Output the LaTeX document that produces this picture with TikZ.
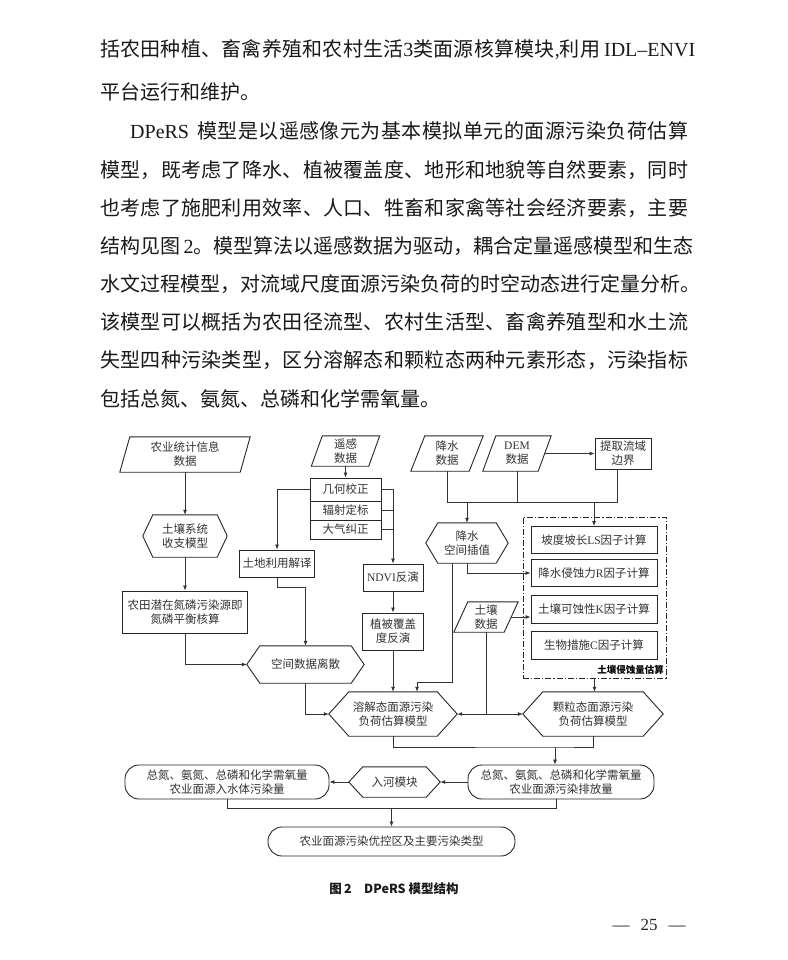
\documentclass[tikz,border=0pt]{standalone}
\usepackage{fontspec}
\setmainfont{Noto Sans CJK SC}
\newfontfamily\lat{Liberation Serif}
\usetikzlibrary{arrows.meta}
\newcount\mycc
\mycc="4E00
\loop \XeTeXcharclass\mycc=1 \advance\mycc by 1 \ifnum\mycc<"A000 \repeat
\XeTeXcharclass"3001=3
\XeTeXcharclass"3002=3
\XeTeXcharclass"FF0C=3
\XeTeXcharclass"FF1B=3
\XeTeXcharclass"FF1A=3
\newcommand{\cjkglue}{\hskip 0pt plus 1fil\relax}
\XeTeXinterchartoks 1 1 = {\cjkglue}
\XeTeXinterchartoks 1 3 = {\cjkglue}
\XeTeXinterchartoks 3 1 = {\cjkglue}
\XeTeXinterchartoks 3 3 = {\cjkglue}
\XeTeXinterchartoks 0 1 = {\cjkglue}
\XeTeXinterchartoks 1 0 = {\cjkglue}
\XeTeXinterchartoks 0 3 = {\cjkglue}
\XeTeXinterchartoks 3 0 = {\cjkglue}
\newcommand{\jl}[2]{\makebox[#1][s]{\XeTeXinterchartokenstate=1 #2}}
\newcommand{\bodyf}{\fontsize{20pt}{24pt}\selectfont}
\newcommand{\dfont}{\fontsize{11.5pt}{14pt}\selectfont}
\newcommand{\parashape}[2]{\draw[shp] ([xshift=#2pt]#1.north west) -- ([xshift=#2pt]#1.north east) -- ([xshift=-#2pt]#1.south east) -- ([xshift=-#2pt]#1.south west) -- cycle;}
\newcommand{\hexshape}[2]{\draw[shp] (#1.west) -- ([xshift=#2pt]#1.north west) -- ([xshift=-#2pt]#1.north east) -- (#1.east) -- ([xshift=-#2pt]#1.south east) -- ([xshift=#2pt]#1.south west) -- cycle;}
\tikzset{
  box/.style={draw=black!85, line width=0.9pt, inner sep=0pt, align=center, font=\dfont, text=black!80},
  txt/.style={inner sep=0pt, align=center, font=\dfont, text=black!80},
  pill/.style={box, rounded corners=14pt},
  shp/.style={draw=black!85, line width=0.9pt},
  ln/.style={draw=black!80, line width=0.8pt},
  arr/.style={-{Latex[length=5pt,width=4pt]}},
  body/.style={anchor=west, inner sep=0pt, font=\bodyf, text=black!90},
}
\begin{document}
\begin{tikzpicture}[x=1pt, y=-1pt]
\useasboundingbox[fill=white] (0,0) rectangle (787,960);

% ---- body text ----
\node[body] (l1) at (100,50) {\jl{595pt}{括农田种植、畜禽养殖和农村生活{\lat 3}类面源核算模块{\lat ,}利用\hspace{4pt}{\lat IDL–ENVI}}};
\node[body] (l2) at (100,92) {平台运行和维护。};
\node[body] (l3) at (130,131) {\jl{558pt}{{\lat DPeRS}\hspace{8pt}模型是以遥感像元为基本模拟单元的面源污染负荷估算}};
\node[body] (l4) at (100,170) {\jl{588pt}{模型，既考虑了降水、植被覆盖度、地形和地貌等自然要素，同时}};
\node[body] (l5) at (100,208) {\jl{588pt}{也考虑了施肥利用效率、人口、牲畜和家禽等社会经济要素，主要}};
\node[body] (l6) at (100,246) {\jl{588pt}{结构见图{\lat\,2}。模型算法以遥感数据为驱动，耦合定量遥感模型和生态}};
\node[body] (l7) at (100,284) {\jl{588pt}{水文过程模型，对流域尺度面源污染负荷的时空动态进行定量分析。}};
\node[body] (l8) at (100,322) {\jl{588pt}{该模型可以概括为农田径流型、农村生活型、畜禽养殖型和水土流}};
\node[body] (l9) at (100,360) {\jl{588pt}{失型四种污染类型，区分溶解态和颗粒态两种元素形态，污染指标}};
\node[body] (l10) at (100,399) {包括总氮、氨氮、总磷和化学需氧量。};

% ---- left column ----
\node[txt, minimum width=120, minimum height=35] (nyxx) at (185,454.5) {农业统计信息\\数据};
\parashape{nyxx}{5}
\node[txt, minimum width=84, minimum height=42] (trxt) at (185,536) {土壤系统\\收支模型};
\hexshape{trxt}{10}
\node[box, minimum width=125, minimum height=42] (ntqz) at (185,612) {农田潜在氮磷污染源即\\氮磷平衡核算};
\node[txt, minimum width=117, minimum height=37] (kjsj) at (305.5,664.5) {空间数据离散};
\hexshape{kjsj}{13}

% ---- remote sensing column ----
\node[txt, minimum width=57, minimum height=30] (ygsj) at (345.5,451) {遥感\\数据};
\parashape{ygsj}{5.5}
\node[box, minimum width=71, minimum height=23] (jhjz) at (345.5,489.5) {几何校正};
\node[box, minimum width=71, minimum height=19] (fsdb) at (345.5,510.5) {辐射定标};
\node[box, minimum width=71, minimum height=19] (dqjz) at (345.5,529.5) {大气纠正};
\node[box, minimum width=75, minimum height=27] (tdly) at (277,563.5) {土地利用解译};
\node[box, minimum width=60, minimum height=27] (ndvi) at (393,577.5) {{\lat NDVI}反演};
\node[box, minimum width=61, minimum height=37] (zbfg) at (393,631.5) {植被覆盖\\度反演};

% ---- precipitation / DEM ----
\node[txt, minimum width=58, minimum height=35] (jssj) at (447,453.5) {降水\\数据};
\parashape{jssj}{7}
\node[txt, minimum width=55, minimum height=35] (dem) at (517,453.5) {{\lat DEM}\\数据};
\parashape{dem}{6.5}
\node[box, minimum width=56, minimum height=31] (tqly) at (623,453.5) {提取流域\\边界};
\node[txt, minimum width=82, minimum height=40] (jskj) at (467,543) {降水\\空间插值};
\hexshape{jskj}{12}

% ---- soil erosion group ----
\node[draw=black!85, line width=0.9pt, dash pattern=on 6pt off 2pt on 1.2pt off 2pt, minimum width=143, minimum height=161, inner sep=0pt] (tsq) at (594.5,597.5) {};
\node[box, minimum width=126, minimum height=27] (ls) at (594,540) {坡度坡长{\lat LS}因子计算};
\node[box, minimum width=126, minimum height=27] (rr) at (594,573) {降水侵蚀力{\lat R}因子计算};
\node[box, minimum width=126, minimum height=28] (kk) at (594,609) {土壤可蚀性{\lat K}因子计算};
\node[box, minimum width=126, minimum height=28] (cc) at (594,645) {生物措施{\lat C}因子计算};
\node[anchor=east, inner sep=0pt, font=\bfseries\fontsize{9.5pt}{10pt}\selectfont] (tsqlbl) at (664,670) {土壤侵蚀量估算};
\node[txt, minimum width=50, minimum height=30] (trsj) at (486,617) {土壤\\数据};
\parashape{trsj}{7}

% ---- models ----
\node[txt, minimum width=128, minimum height=44] (rjt) at (393,714) {溶解态面源污染\\负荷估算模型};
\hexshape{rjt}{20}
\node[txt, minimum width=140, minimum height=44] (klt) at (593,714) {颗粒态面源污染\\负荷估算模型};
\hexshape{klt}{20}

% ---- outputs ----
\node[pill, minimum width=186, minimum height=34] (pfl) at (561,782) {总氮、氨氮、总磷和化学需氧量\\农业面源污染排放量};
\node[txt, minimum width=91, minimum height=30] (rhmk) at (394.5,782) {入河模块};
\hexshape{rhmk}{14}
\node[pill, minimum width=204, minimum height=34] (rst) at (227,782) {总氮、氨氮、总磷和化学需氧量\\农业面源入水体污染量};
\node[pill, minimum width=247, minimum height=29] (ykq) at (391.5,841.5) {农业面源污染优控区及主要污染类型};

% ---- caption & page number ----
\node[inner sep=0pt, font=\bfseries\fontsize{12.5pt}{14pt}\selectfont, text=black!90] (cap) at (394,889) {图\,2\quad DPeRS 模型结构};
\node[inner sep=0pt, text=black!85] (pg) at (649,925) {\lat\fontsize{17pt}{19pt}\selectfont —\hspace{11pt}25\hspace{11pt}—};

% ---- connectors ----
\draw[ln,arr] (nyxx) -- (trxt);
\draw[ln,arr] (trxt) -- (ntqz);
\draw[ln,arr] (ntqz.south) |- (kjsj.west);
\draw[ln,arr] (ygsj) -- (jhjz);
\draw[ln,arr] (jhjz.west) -| (tdly.north);
\draw[ln,arr] (jhjz.east) -| (ndvi.north);
\draw[ln] (fsdb.east) -- (fsdb.east -| ndvi.north);
\draw[ln] (dqjz.east) -- (dqjz.east -| ndvi.north);
\draw[ln,arr] (tdly.south) -- ++(0,10) -| (kjsj.north);
\draw[ln,arr] (ndvi) -- (zbfg);
\draw[ln,arr] (zbfg) -- (rjt);
\draw[ln,arr] (kjsj.south) |- (rjt.west);
\draw[ln,arr] ([xshift=-15pt]jskj.south) -- ++(0,119) -| ([xshift=24pt]rjt.north);
\draw[ln,arr] (jskj.south) |- (rr.west);
\coordinate (hl) at (0,502);
\coordinate (tq) at ([xshift=-6pt]tqly.south);
\draw[ln] (jssj.south) |- (tq |- hl) -- (tq);
\draw[ln] (dem.south) -- (dem.south |- hl);
\draw[ln,arr] (jskj.north |- hl) -- (jskj.north);
\draw[ln,arr] (ls.north |- hl) -- (ls.north);
\draw[ln,arr] (dem.east) -- (tqly.west);
\draw[ln,arr] (trsj.east) -- (trsj.east -| kk.west);
\coordinate (tj) at (trsj.south |- rjt.east);
\draw[ln] (trsj.south) -- (tj);
\draw[ln,arr] (tj) -- (rjt.east);
\draw[ln,arr] (tj) -- (klt.west);
\draw[ln,arr] (tsq.south) -- (tsq.south |- klt.north);
\coordinate (j1) at (555,747);
\draw[ln] (rjt.south) |- (j1) -| (klt.south);
\draw[ln,arr] (j1) -- (j1 |- pfl.north);
\draw[ln,arr] (pfl.west) -- (rhmk.east);
\draw[ln,arr] (rhmk.west) -- (rst.east);
\coordinate (j2) at (391.5,808);
\coordinate (j3) at (556,808);
\draw[ln] (rst.south) |- (j3) -- (j3 |- pfl.south);
\draw[ln,arr] (j2) -- (ykq.north);
\end{tikzpicture}
\end{document}
